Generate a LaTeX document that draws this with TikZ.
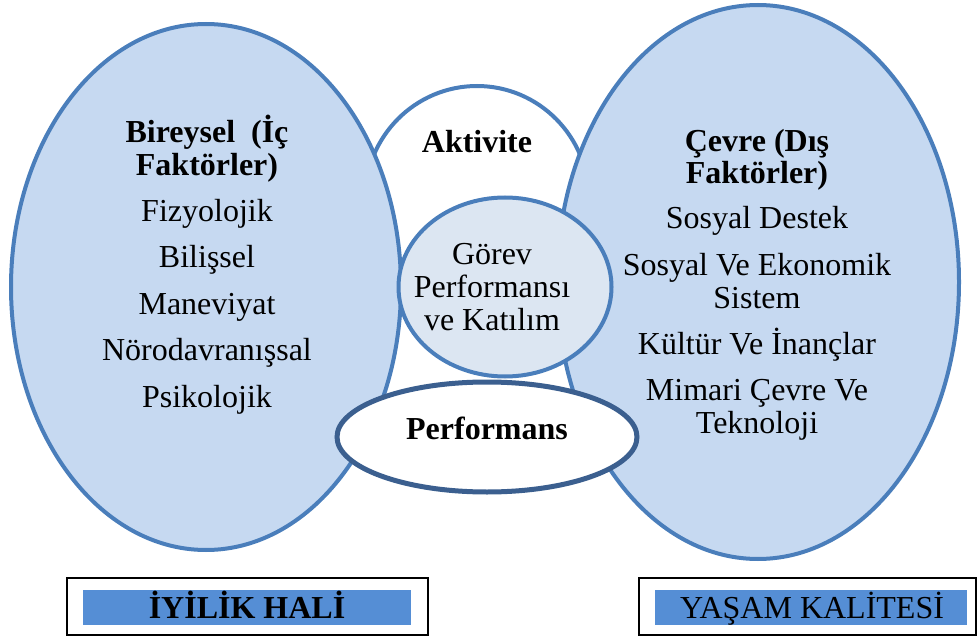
\documentclass[tikz,border=0pt]{standalone}
\usepackage{fontspec}
\setmainfont{Liberation Serif}
\usetikzlibrary{shapes.geometric}
\definecolor{ellfill}{HTML}{C6D9F1}
\definecolor{midfill}{HTML}{DCE6F2}
\definecolor{edge}{HTML}{4A7EBB}
\definecolor{edgedark}{HTML}{3B5F8F}
\definecolor{labelfill}{HTML}{558ED5}
\begin{document}
\begin{tikzpicture}[x=1pt,y=-1pt,
  shp/.style={ellipse, draw=edge, line width=4pt, inner sep=0pt},
  txt/.style={anchor=base, inner sep=0pt, font=\fontsize{32}{34}\selectfont},
  btxt/.style={txt, font=\fontsize{32}{34}\selectfont\bfseries},
  outerbox/.style={draw=black, line width=2pt, inner sep=0pt},
  innerbox/.style={fill=labelfill, inner sep=0pt}]
\useasboundingbox (0,0) rectangle (980,639);
% shapes
\node[shp, fill=white, minimum width=224pt, minimum height=226pt] (akt) at (477,199) {};
\node[shp, fill=ellfill, minimum width=390pt, minimum height=526pt] (left) at (206,287) {};
\node[shp, fill=ellfill, minimum width=402pt, minimum height=554pt] (right) at (758,282) {};
\node[shp, fill=midfill, minimum width=213pt, minimum height=179pt] (gorev) at (505,287) {};
\node[shp, draw=edgedark, line width=5pt, fill=white, minimum width=300pt, minimum height=110pt] (perf) at (487,437) {};
% left texts
\node[btxt] (l1) at (207,143) {Bireysel\ \ (İç};
\node[btxt] (l2) at (207,176) {Faktörler)};
\node[txt] (l3) at (207,222) {Fizyolojik};
\node[txt] (l4) at (207,268) {Bilişsel};
\node[txt] (l5) at (207,314) {Maneviyat};
\node[txt] (l6) at (207,360) {Nörodavranışsal};
\node[txt] (l7) at (207,407) {Psikolojik};
% right texts
\node[btxt] (r1) at (757,152) {Çevre (Dış};
\node[btxt] (r2) at (757,184) {Faktörler)};
\node[txt] (r3) at (757,229) {Sosyal Destek};
\node[txt] (r4) at (757,275) {Sosyal Ve Ekonomik};
\node[txt] (r5) at (757,308) {Sistem};
\node[txt] (r6) at (757,354) {Kültür Ve İnançlar};
\node[txt] (r7) at (757,400) {Mimari Çevre Ve};
\node[txt] (r8) at (757,433) {Teknoloji};
% middle texts
\node[btxt] (a1) at (477,153) {Aktivite};
\node[txt] (g1) at (492,265) {Görev};
\node[txt] (g2) at (492,297) {Performansı};
\node[txt] (g3) at (492,330) {ve Katılım};
\node[btxt] (p1) at (487,439) {Performans};
% bottom boxes
\node[outerbox, minimum width=361pt, minimum height=57pt] (bx1) at (247.5,606.5) {};
\node[innerbox, minimum width=328pt, minimum height=35pt] (lb1) at (247,607.5) {};
\node[btxt] (t1) at (247,618) {İYİLİK HALİ};
\node[outerbox, minimum width=337pt, minimum height=57pt] (bx2) at (807,606.5) {};
\node[innerbox, minimum width=312pt, minimum height=35pt] (lb2) at (811,607.5) {};
\node[txt] (t2) at (812,618) {YAŞAM KALİTESİ};
\end{tikzpicture}
\end{document}
